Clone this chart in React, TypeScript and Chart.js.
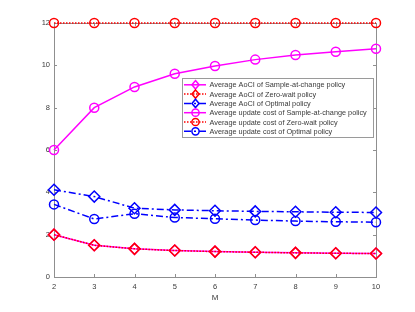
import React, { useEffect, useRef } from 'react';
import { Chart, registerables } from 'chart.js';

Chart.register(...registerables);

const M = [2, 3, 4, 5, 6, 7, 8, 9, 10];
const aociSampleAtChange = [2.0, 1.5, 1.33, 1.25, 1.2, 1.17, 1.14, 1.12, 1.11];
const aociZeroWait = [2.0, 1.5, 1.33, 1.25, 1.2, 1.17, 1.14, 1.12, 1.11];
const aociOptimal = [4.12, 3.8, 3.25, 3.17, 3.13, 3.1, 3.08, 3.06, 3.05];
const costSampleAtChange = [6.0, 8.0, 8.98, 9.6, 9.97, 10.27, 10.49, 10.64, 10.78];
const costZeroWait = [12, 12, 12, 12, 12, 12, 12, 12, 12];
const costOptimal = [3.43, 2.74, 2.99, 2.81, 2.75, 2.69, 2.64, 2.61, 2.59];
const xTicks = [2, 3, 4, 5, 6, 7, 8, 9, 10];
const yTicks = [0, 2, 4, 6, 8, 10, 12];
const seriesLabels = [
  'Average AoCI of Sample-at-change policy',
  'Average AoCI of Zero-wait policy',
  'Average AoCI of Optimal policy',
  'Average update cost of Sample-at-change policy',
  'Average update cost of Zero-wait policy',
  'Average update cost of Optimal policy',
];
const xTitle = 'M';

const MAGENTA = '#ff00ff';
const RED = '#ff0000';
const BLUE = '#0000ff';
const DOT = [1.5, 1.5];
const DASHDOT = [7, 3, 2, 3];

const styles = [
  { color: MAGENTA, dash: [] as number[], marker: 'rectRot' },
  { color: RED, dash: DOT, marker: 'rectRot' },
  { color: BLUE, dash: DASHDOT, marker: 'rectRot' },
  { color: MAGENTA, dash: [] as number[], marker: 'circle' },
  { color: RED, dash: DOT, marker: 'circle' },
  { color: BLUE, dash: DASHDOT, marker: 'circle' },
];
const seriesValues = [aociSampleAtChange, aociZeroWait, aociOptimal, costSampleAtChange, costZeroWait, costOptimal];

const FONT = '"Liberation Sans", Arial, Helvetica, sans-serif';
const AXIS_COLOR = '#8f8f8f';
const TEXT_COLOR = '#3a3a3a';

function drawMarker(ctx: CanvasRenderingContext2D, kind: string, x: number, y: number) {
  ctx.beginPath();
  if (kind === 'circle') {
    ctx.arc(x, y, 3.6, 0, Math.PI * 2);
  } else {
    const r = 4.2;
    ctx.moveTo(x, y - r);
    ctx.lineTo(x + r * 0.85, y);
    ctx.lineTo(x, y + r);
    ctx.lineTo(x - r * 0.85, y);
    ctx.closePath();
  }
  ctx.stroke();
}

const framePlugin = {
  id: 'frame',
  beforeDatasetsDraw(chart: any) {
    const { ctx, chartArea: a, scales } = chart;
    ctx.save();
    ctx.strokeStyle = AXIS_COLOR;
    ctx.lineWidth = 1;
    ctx.strokeRect(Math.round(a.left) + 0.5, Math.round(a.top) + 0.5, Math.round(a.right - a.left), Math.round(a.bottom - a.top));
    const tl = 3;
    ctx.beginPath();
    for (const v of xTicks) {
      const px = Math.round(scales.x.getPixelForValue(v)) + 0.5;
      ctx.moveTo(px, a.bottom);
      ctx.lineTo(px, a.bottom - tl);
      ctx.moveTo(px, a.top);
      ctx.lineTo(px, a.top + tl);
    }
    for (const v of yTicks) {
      const py = Math.round(scales.y.getPixelForValue(v)) + 0.5;
      ctx.moveTo(a.left, py);
      ctx.lineTo(a.left + tl, py);
      ctx.moveTo(a.right, py);
      ctx.lineTo(a.right - tl, py);
    }
    ctx.stroke();
    ctx.restore();
  },
  afterDraw(chart: any) {
    const { ctx, chartArea: a } = chart;
    ctx.save();
    // x title
    ctx.fillStyle = TEXT_COLOR;
    ctx.font = `8px ${FONT}`;
    ctx.textAlign = 'center';
    ctx.textBaseline = 'middle';
    ctx.fillText(xTitle, (a.left + a.right) / 2, 297.5);
    // legend
    const bx = 182.5, by = 78.5, bw = 191, bh = 59;
    ctx.fillStyle = '#ffffff';
    ctx.fillRect(bx, by, bw, bh);
    ctx.strokeStyle = '#9a9a9a';
    ctx.lineWidth = 1;
    ctx.strokeRect(bx, by, bw, bh);
    const rowH = 9.3;
    const y0 = 84.8;
    ctx.font = `7.3px ${FONT}`;
    ctx.textAlign = 'left';
    ctx.textBaseline = 'middle';
    seriesLabels.forEach((label, i) => {
      const y = y0 + i * rowH;
      const s = styles[i];
      ctx.strokeStyle = s.color;
      ctx.lineWidth = 1.5;
      ctx.setLineDash(s.dash);
      ctx.beginPath();
      ctx.moveTo(184, y);
      ctx.lineTo(206, y);
      ctx.stroke();
      ctx.setLineDash([]);
      drawMarker(ctx, s.marker, 195.5, y);
      ctx.fillStyle = TEXT_COLOR;
      ctx.fillText(label, 209.5, y + 0.5);
    });
    ctx.restore();
  },
};

export default function App() {
  const canvasRef = useRef<HTMLCanvasElement | null>(null);

  useEffect(() => {
    document.body.style.margin = '0';
    const canvas = canvasRef.current;
    if (!canvas) return;
    const datasets = seriesLabels.map((label, i) => ({
      label,
      data: M.map((m, j) => ({ x: m, y: seriesValues[i][j] })),
      borderColor: styles[i].color,
      backgroundColor: 'rgba(0,0,0,0)',
      borderWidth: 1.5,
      borderDash: styles[i].dash,
      pointStyle: styles[i].marker,
      pointRadius: styles[i].marker === 'circle' ? 4.5 : 5.5,
      pointBorderWidth: 1.5,
      pointBorderColor: styles[i].color,
      pointBackgroundColor: 'rgba(0,0,0,0)',
      tension: 0,
      clip: false as any,
      order: seriesLabels.length - i,
    }));
    const chart = new Chart(canvas, {
      type: 'line',
      data: { datasets },
      plugins: [framePlugin],
      options: {
        animation: false,
        responsive: false,
        layout: { padding: { left: 0, top: 23, right: 39, bottom: 0 } },
        plugins: { legend: { display: false }, tooltip: { enabled: false } },
        scales: {
          x: {
            type: 'linear',
            min: 2,
            max: 10,
            afterBuildTicks: (scale: any) => {
              scale.ticks = xTicks.map((v) => ({ value: v }));
            },
            afterFit: (scale: any) => {
              scale.height = 35;
            },
            grid: { display: false, drawTicks: false },
            border: { display: false },
            ticks: { font: { size: 7.5, family: FONT }, color: TEXT_COLOR, padding: 5, maxRotation: 0 },
          },
          y: {
            type: 'linear',
            min: 0,
            max: 12,
            afterBuildTicks: (scale: any) => {
              scale.ticks = yTicks.map((v) => ({ value: v }));
            },
            afterFit: (scale: any) => {
              scale.width = 54;
            },
            grid: { display: false, drawTicks: false },
            border: { display: false },
            ticks: { font: { size: 7.5, family: FONT }, color: TEXT_COLOR, padding: 4 },
          },
        },
      },
    });
    return () => chart.destroy();
  }, []);

  return (
    <div style={{ width: 415, height: 312, background: '#ffffff' }}>
      <canvas ref={canvasRef} width={415} height={312} style={{ display: 'block' }} />
    </div>
  );
}
